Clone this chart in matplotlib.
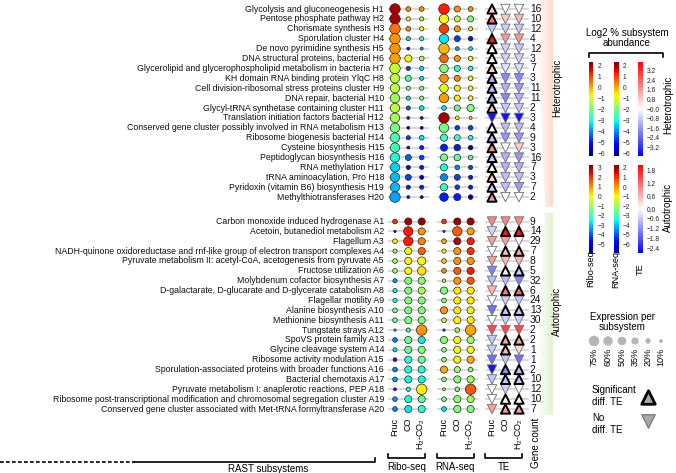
import numpy as np
import matplotlib
matplotlib.use("Agg")
import matplotlib.pyplot as plt
import matplotlib.colors as mcolors
from matplotlib.patches import Polygon
import matplotlib.cm as cm

plt.rcParams['font.family'] = ['Liberation Sans', 'DejaVu Sans']
plt.rcParams['mathtext.fontset'] = 'custom'
plt.rcParams['mathtext.rm'] = 'Liberation Sans'
plt.rcParams['mathtext.it'] = 'Liberation Sans'

# ── Data ──────────────────────────────────────────────────────────────────────
LABELS_H = [
    "Glycolysis and gluconeogenesis H1", "Pentose phosphate pathway H2",
    "Chorismate synthesis H3", "Sporulation cluster H4",
    "De novo pyrimidine synthesis H5", "DNA structural proteins, bacterial H6",
    "Glycerolipid and glycerophospholipid metabolism in bacteria H7",
    "KH domain RNA binding protein YlqC H8",
    "Cell division-ribosomal stress proteins cluster H9",
    "DNA repair, bacterial H10", "Glycyl-tRNA synthetase containing cluster H11",
    "Translation initiation factors bacterial H12",
    "Conserved gene cluster possibly involved in RNA metabolism H13",
    "Ribosome biogenesis bacterial H14", "Cysteine biosynthesis H15",
    "Peptidoglycan biosynthesis H16", "RNA methylation H17",
    "tRNA aminoacylation, Pro H18", "Pyridoxin (vitamin B6) biosynthesis H19",
    "Methylthiotransferases H20",
]
LABELS_A = [
    "Carbon monoxide induced hydrogenase A1", "Acetoin, butanediol metabolism A2",
    "Flagellum A3",
    "NADH-quinone oxidoreductase and rnf-like group of electron transport complexes A4",
    "Pyruvate metabolism II: acetyl-CoA, acetogenesis from pyruvate A5",
    "Fructose utilization A6", "Molybdenum cofactor biosynthesis A7",
    "D-galactarate, D-glucarate and D-glycerate catabolism A8",
    "Flagellar motility A9", "Alanine biosynthesis A10", "Methionine biosynthesis A11",
    "Tungstate strays A12", "SpoVS protein family A13", "Glycine cleavage system A14",
    "Ribosome activity modulation A15",
    "Sporulation-associated proteins with broader functions A16",
    "Bacterial chemotaxis A17", "Pyruvate metabolism I: anaplerotic reactions, PEP A18",
    "Ribosome post-transcriptional modification and chromosomal segregation cluster A19",
    "Conserved gene cluster associated with Met-tRNA formyltransferase A20",
]
GENES_H = [16, 10, 12, 4, 12, 3, 7, 3, 11, 11, 2, 3, 4, 9, 3, 16, 7, 3, 7, 2]
GENES_A = [9, 14, 29, 7, 8, 5, 32, 6, 24, 13, 30, 2, 2, 1, 1, 2, 10, 12, 10, 7]

CONDITIONS = ["Fruc", "CO", "H$_2$-CO$_2$"]

# log2 abundance (Fruc, CO, H2-CO2) and expression per subsystem (%)
RIBO_H = [[2.0, 0.2, 0.2], [2.0, -0.7, -1.3], [0.5, 0.2, -0.7], [0.2, -3.2, -2.6],
          [0.2, -4.9, -3.8], [0.1, -0.7, -1.3], [-1.2, -4.6, -3.2], [-1.3, -2.4, -3.2],
          [-1.3, -1.9, -1.9], [-1.6, -3.2, -2.0], [-1.3, -4.3, -3.2], [-1.5, -4.9, -4.9],
          [-2.0, -5.8, -5.8], [-2.5, -4.6, -3.2], [-2.6, -5.8, -4.9], [-2.9, -4.3, -4.6],
          [-3.4, -5.6, -4.9], [-3.6, -4.6, -5.6], [-3.6, -4.9, -4.9], [-3.8, -4.9, -5.8]]
RIBO_H_PCT = [[75, 15, 15], [75, 12, 12], [75, 15, 12], [75, 12, 12], [75, 6, 6],
              [75, 35, 15], [75, 12, 12], [60, 25, 12], [60, 12, 12], [60, 12, 12],
              [60, 12, 15], [60, 6, 6], [60, 6, 6], [60, 12, 15], [60, 6, 12],
              [60, 25, 15], [60, 12, 12], [60, 25, 12], [60, 12, 12], [75, 6, 6]]
RNA_H = [[1.3, 0.2, 0.2], [-0.7, -1.3, -1.9], [1.0, 0.2, -0.5], [-3.2, -4.6, -5.0],
         [-0.1, -3.8, -3.2], [0.6, 0.2, -0.7], [-1.9, -2.8, -3.0], [0.2, 0.3, -0.7],
         [-0.8, -0.6, -0.7], [0.1, -0.6, -0.7], [-3.2, -2.2, -1.9], [2.0, -0.7, -0.5],
         [-2.0, -4.6, -4.6], [-2.6, -2.8, -3.0], [-4.9, -4.9, -5.8], [-2.0, -2.2, -2.3],
         [-3.0, -4.0, -4.6], [-4.0, -4.6, -4.9], [-2.6, -4.6, -4.9], [-4.9, -4.9, -5.8]]
RNA_H_PCT = [[75, 25, 15], [60, 25, 25], [60, 25, 12], [60, 25, 15], [75, 10, 10],
             [50, 25, 15], [50, 25, 15], [50, 25, 15], [50, 25, 15], [60, 25, 15],
             [15, 25, 35], [75, 10, 6], [60, 15, 15], [35, 25, 15], [35, 30, 15],
             [35, 30, 15], [35, 15, 12], [35, 25, 12], [35, 15, 12], [50, 35, 15]]
TE_H = [[0.8, 0.0, 0.0], [2.2, 0.8, 1.1], [-0.9, -0.7, -0.8], [3.5, 1.6, 1.6],
        [0.0, -0.7, -0.8], [0.1, -0.7, -0.7], [0.8, -0.4, -0.5], [-1.2, -1.8, -1.8],
        [-1.0, -1.2, -1.5], [-1.3, -1.8, -1.2], [0.9, -0.9, -0.9], [-3.6, -3.6, -3.6],
        [0.0, -1.0, -1.0], [-0.9, -1.6, -1.6], [1.7, 0.0, 0.8], [-0.8, -1.2, -1.6],
        [0.0, -1.2, -1.2], [0.7, -1.0, -1.0], [-0.8, -1.0, -1.5], [1.6, 0.0, 0.0]]
SIG_H = [[1, 0, 0], [1, 0, 0], [0, 0, 0], [1, 0, 0], [1, 0, 0], [1, 0, 0], [1, 0, 0],
         [1, 0, 0], [1, 0, 0], [1, 0, 0], [1, 0, 0], [0, 0, 0], [1, 0, 0], [1, 0, 0],
         [1, 0, 0], [1, 0, 0], [1, 0, 0], [1, 0, 0], [1, 0, 0], [1, 0, 0]]

RIBO_A = [[2.0, 3.0, 3.1], [-4.5, 2.2, 1.0], [0.1, 2.2, 1.2], [-1.3, 0.1, 1.5],
          [-1.0, 0.1, 0.0], [-1.0, 0.1, 0.3], [-3.3, -1.3, -1.2], [-2.5, -1.3, -0.8],
          [-2.4, -1.3, -1.3], [-1.5, -1.3, -1.3], [-1.6, -1.3, -1.3], [-3.0, -2.0, 1.0],
          [-3.6, -1.5, -2.6], [-2.7, -1.5, -1.3], [-4.5, -2.3, -1.5], [-3.5, -2.3, -2.3],
          [-3.3, -2.5, -2.5], [-4.5, -2.4, 0.2], [-3.4, -2.4, -1.8], [-3.5, -2.7, -2.3]]
RIBO_A_PCT = [[15, 35, 35], [4, 60, 35], [15, 60, 35], [12, 35, 35], [15, 35, 45],
              [15, 35, 50], [12, 35, 35], [12, 35, 35], [12, 35, 35], [15, 35, 35],
              [15, 35, 35], [4, 12, 75], [15, 35, 35], [12, 35, 35], [10, 35, 35],
              [15, 35, 35], [15, 35, 35], [6, 12, 75], [15, 35, 35], [15, 35, 35]]
RNA_A = [[1.0, 2.0, 2.0], [-5.0, 0.6, -0.1], [-0.2, 1.9, 1.2], [-1.0, 0.0, 1.0],
         [-0.5, 0.0, 0.0], [0.0, 0.6, 1.2], [-1.6, 0.0, 0.6], [-2.3, -0.8, -0.8],
         [-2.3, -0.9, -0.8], [0.0, -0.8, -0.9], [-1.6, -0.9, -0.8], [-5.0, -2.3, -0.1],
         [-2.2, -0.9, -2.0], [-2.2, -0.9, -0.9], [-2.0, -0.9, -0.2], [-0.2, -2.0, -2.2],
         [-2.3, -2.2, -2.0], [-2.0, -2.2, 0.6], [-2.3, -2.2, -2.0], [-3.7, -2.3, -2.3]]
RNA_A_PCT = [[15, 35, 35], [4, 60, 35], [15, 35, 35], [12, 35, 35], [15, 35, 35],
             [15, 35, 35], [8, 35, 35], [35, 35, 35], [15, 35, 35], [35, 35, 35],
             [15, 35, 35], [4, 15, 75], [35, 35, 35], [15, 35, 35], [15, 35, 35],
             [35, 25, 15], [15, 35, 35], [6, 15, 75], [15, 35, 35], [15, 35, 35]]
TE_A = [[1.0, 1.0, 1.0], [-0.4, 1.9, 1.9], [0.8, 0.8, 0.1], [0.0, 0.5, 0.7],
        [0.8, 0.6, 0.6], [-1.3, 0.0, -0.5], [-0.7, -0.7, -1.3], [0.6, 1.1, 1.2],
        [0.0, -0.5, -0.6], [-1.5, -0.6, -0.6], [0.0, -0.5, -0.5], [1.5, 1.5, 1.5],
        [-0.6, 0.7, 0.7], [-0.5, 0.6, 0.3], [-1.5, -0.6, -1.5], [-2.5, -1.2, -0.7],
        [-0.6, -0.6, -0.6], [0.0, -0.5, 0.0], [0.0, 0.0, 0.0], [0.8, 0.8, 0.8]]
SIG_A = [[0, 0, 0], [0, 1, 1], [0, 0, 0], [0, 1, 1], [0, 0, 0], [0, 1, 1], [0, 0, 0],
         [0, 1, 1], [0, 0, 0], [0, 1, 1], [0, 0, 0], [0, 0, 0], [0, 1, 1], [0, 1, 0],
         [0, 0, 0], [0, 1, 1], [0, 1, 1], [0, 0, 0], [0, 1, 1], [0, 1, 1]]

LEGEND_PCT = [75, 60, 50, 35, 20, 10]

# ── Layout (pixel canvas) ─────────────────────────────────────────────────────
W, H = 676, 473
ROW_H = 9 + 9.9 * np.arange(20)
ROW_A = 221.5 + 9.87 * np.arange(20)
COL_RIBO = [395, 408.3, 421.7]
COL_RNA = [444, 457.3, 470.6]
COL_TE = [492, 505.5, 519]
SIZE_K = 0.76
LINE_C = "#d6d6d6"

NORMS = {
    "ribo_h": mcolors.Normalize(-6.2, 2.3),
    "rna_h": mcolors.Normalize(-6.2, 2.3),
    "te_h": mcolors.Normalize(-3.9, 3.9),
    "ribo_a": mcolors.Normalize(-5.9, 3.3),
    "rna_a": mcolors.Normalize(-6.9, 2.3),
    "te_a": mcolors.TwoSlopeNorm(0, -2.65, 2.07),
}
JET = plt.get_cmap("jet")
BWR = plt.get_cmap("bwr")

fig = plt.figure(figsize=(W / 100, H / 100), dpi=100)
ax = fig.add_axes([0, 0, 1, 1])
ax.set_xlim(0, W)
ax.set_ylim(H, 0)
ax.axis("off")


def px_axes(x0, y0, w, h):
    return fig.add_axes([x0 / W, 1 - (y0 + h) / H, w / W, h / H])


def draw_block(rows, labels, genes, ribo, ribo_pct, rna, rna_pct, te, sig, key):
    for i, y in enumerate(rows):
        ax.plot([COL_RIBO[0] - 6, COL_RIBO[2] + 6], [y, y], color=LINE_C, lw=1.3, zorder=1)
        ax.plot([COL_RNA[0] - 6, COL_RNA[2] + 6], [y, y], color=LINE_C, lw=1.3, zorder=1)
        ax.plot([COL_TE[0] - 6, COL_TE[2] + 9], [y, y], color=LINE_C, lw=1.3, zorder=1)
        ax.text(384, y, labels[i], ha="right", va="center", fontsize=6.3, color="#111111")
        ax.text(530, y, str(genes[i]), ha="left", va="center", fontsize=7.4, color="#111111")
    yy = np.repeat(rows, 3)
    ax.scatter(np.tile(COL_RIBO, len(rows)), yy, s=np.ravel(ribo_pct) * SIZE_K,
               c=np.ravel(ribo), cmap=JET, norm=NORMS["ribo_" + key],
               edgecolors="#222222", linewidths=0.5, zorder=3)
    ax.scatter(np.tile(COL_RNA, len(rows)), yy, s=np.ravel(rna_pct) * SIZE_K,
               c=np.ravel(rna), cmap=JET, norm=NORMS["rna_" + key],
               edgecolors="#222222", linewidths=0.5, zorder=3)
    te_v = np.ravel(te)
    sg = np.ravel(sig).astype(bool)
    xt = np.tile(COL_TE, len(rows))
    cols = BWR(NORMS["te_" + key](te_v))
    ax.scatter(xt[~sg], yy[~sg], s=46, marker="v", c=cols[~sg],
               edgecolors="#6e6e6e", linewidths=0.6, zorder=3)
    ax.scatter(xt[sg], yy[sg], s=44, marker="^", c=cols[sg],
               edgecolors="black", linewidths=1.4, zorder=4)


draw_block(ROW_H, LABELS_H, GENES_H, RIBO_H, RIBO_H_PCT, RNA_H, RNA_H_PCT, TE_H, SIG_H, "h")
draw_block(ROW_A, LABELS_A, GENES_A, RIBO_A, RIBO_A_PCT, RNA_A, RNA_A_PCT, TE_A, SIG_A, "a")

# ── Side bands ────────────────────────────────────────────────────────────────
def gradient_band(poly, rgb, amax):
    grad = np.zeros((2, 64, 4))
    grad[..., :3] = rgb
    grad[..., 3] = np.linspace(0, amax, 64) ** 1.2
    im = ax.imshow(grad, extent=(min(p[0] for p in poly), max(p[0] for p in poly),
                                 max(p[1] for p in poly), min(p[1] for p in poly)),
                   aspect="auto", zorder=0, interpolation="bilinear")
    patch = Polygon(poly, closed=True, transform=ax.transData, facecolor="none",
                    edgecolor="none")
    ax.add_patch(patch)
    im.set_clip_path(patch)


gradient_band([(536, 0), (553, 0), (553, 207), (545, 207)], (0.98, 0.70, 0.58), 0.55)
gradient_band([(545, 213), (553, 213), (553, 415), (536, 415)], (0.76, 0.90, 0.60), 0.55)
ax.set_xlim(0, W)
ax.set_ylim(H, 0)
ax.text(557, 88, "Heterotrophic", rotation=90, ha="center", va="center", fontsize=7)
ax.text(557, 311, "Autotrophic", rotation=90, ha="center", va="center", fontsize=7)

# ── Column labels and brackets ────────────────────────────────────────────────
for cols in (COL_RIBO, COL_RNA, COL_TE):
    for x, lab in zip(cols, CONDITIONS):
        ax.text(x, 418, lab, rotation=90, ha="center", va="top", fontsize=6.5)
ax.text(536, 418, "Gene count", rotation=90, ha="center", va="top", fontsize=7)

for cols, lab in ((COL_RIBO, "Ribo-seq"), (COL_RNA, "RNA-seq"), (COL_TE, "TE")):
    x0, x1 = cols[0] - 7, cols[2] + 3
    ax.plot([x0, x0, x1, x1], [454, 458, 458, 454], color="black", lw=1.2)
    ax.text((x0 + x1) / 2, 467, lab, ha="center", va="center", fontsize=7)

ax.plot([0, 135], [461.5, 461.5], color="black", lw=1.2, ls=(0, (2.2, 1.4)))
ax.plot([135, 375, 375], [461.5, 461.5, 458], color="black", lw=1.2)
ax.text(268, 469, "RAST subsystems", ha="center", va="center", fontsize=7)

# ── Colorbar legend ───────────────────────────────────────────────────────────
ax.text(627, 38, "Log2 % subsystem\nabundance", ha="center", va="center",
        fontsize=7, linespacing=1.1)
ax.plot([589, 589, 663, 663], [57, 53, 53, 57], color="black", lw=1.2)

CB_X = [589, 614, 638]
CB_TICKS = {
    "ribo_h": np.arange(-6, 3), "rna_h": np.arange(-6, 3),
    "te_h": np.arange(-3.2, 3.3, 0.8),
    "ribo_a": np.arange(-5, 4), "rna_a": np.arange(-6, 3),
    "te_a": np.arange(-2.4, 1.9, 0.6),
}
for y0, h, key in ((62, 94, "h"), (165, 88, "a")):
    for x0, kind, cmap in zip(CB_X, ("ribo_", "rna_", "te_"), (JET, JET, BWR)):
        cax = px_axes(x0, y0, 4.5, h)
        sm = cm.ScalarMappable(norm=NORMS[kind + key], cmap=cmap)
        cb = fig.colorbar(sm, cax=cax)
        cb.outline.set_visible(False)
        ticks = CB_TICKS[kind + key]
        cb.set_ticks(ticks)
        if kind == "te_":
            cb.set_ticklabels([f"{t:.1f}".replace("-", "\u2212") for t in np.round(ticks, 1)])
        cax.tick_params(length=0, pad=3, labelsize=4.8, colors="#222222")

ax.text(668, 105, "Heterotrophic", rotation=90, ha="center", va="center", fontsize=7)
ax.text(668, 207, "Autotrophic", rotation=90, ha="center", va="center", fontsize=7)
for x, lab in zip(CB_X, ("Ribo-seq", "RNA-seq", "TE")):
    ax.text(x + 2, 269, lab, rotation=90, ha="center", va="center", fontsize=6.6)

# ── Size legend ───────────────────────────────────────────────────────────────
ax.text(622, 322, "Expression per\nsubsystem", ha="center", va="center",
        fontsize=7, linespacing=1.1)
LEG_X = [594, 608, 622, 635, 648, 661]
ax.scatter(LEG_X, [341] * 6, s=np.array(LEGEND_PCT) * SIZE_K, color="#b5b5b5",
           edgecolors="none")
for x, p in zip(LEG_X, LEGEND_PCT):
    ax.text(x, 348, f"{p}%", rotation=90, ha="center", va="top", fontsize=6.5)

ax.text(592, 396, "Significant\ndiff. TE", ha="left", va="center", fontsize=7,
        linespacing=1.2)
ax.scatter([648], [397], s=95, marker="^", color="#a9a9a9", edgecolors="black",
           linewidths=2)
ax.text(592, 424, "No\ndiff. TE", ha="left", va="center", fontsize=7,
        linespacing=1.2)
ax.scatter([648], [421], s=95, marker="v", color="#a9a9a9", edgecolors="#6e6e6e",
           linewidths=0.8)

fig.savefig("out.png", dpi=100)
